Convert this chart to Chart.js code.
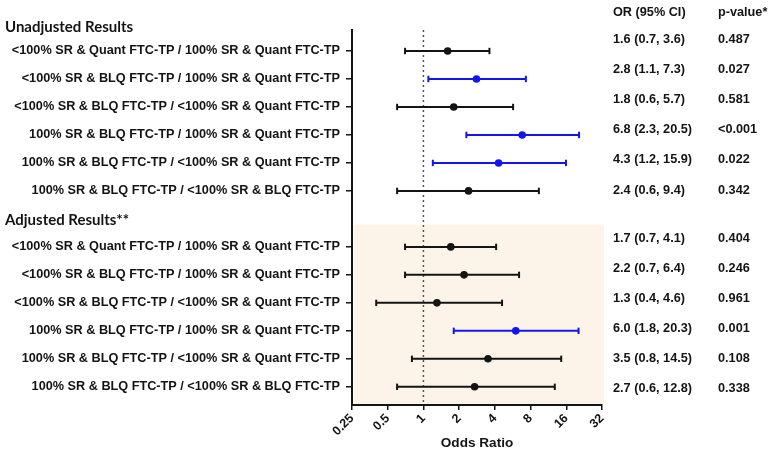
<!DOCTYPE html>
<html>
<head>
<meta charset="utf-8">
<script src="https://cdn.jsdelivr.net/npm/chart.js@4.4.1/dist/chart.umd.min.js"></script>
<style>
  html, body { margin: 0; padding: 0; background: #fff; }
  #wrap { width: 772px; height: 453px; }
</style>
</head>
<body>
<div id="wrap"><canvas id="forest"></canvas></div>
<script>
// comparisons (same six for both groups)
const comparisons = [
    '<100% SR & Quant FTC-TP / 100% SR & Quant FTC-TP',
    '<100% SR & BLQ FTC-TP / 100% SR & Quant FTC-TP',
    '<100% SR & BLQ FTC-TP / <100% SR & Quant FTC-TP',
    '100% SR & BLQ FTC-TP / 100% SR & Quant FTC-TP',
    '100% SR & BLQ FTC-TP / <100% SR & Quant FTC-TP',
    '100% SR & BLQ FTC-TP / <100% SR & BLQ FTC-TP'
];

// unadjusted results
const unadjOR = [1.6, 2.8, 1.8, 6.8, 4.3, 2.4];
const unadjLo = [0.7, 1.1, 0.6, 2.3, 1.2, 0.6];
const unadjHi = [3.6, 7.3, 5.7, 20.5, 15.9, 9.4];
const unadjP = ['0.487', '0.027', '0.581', '<0.001', '0.022', '0.342'];

// adjusted results
const adjOR = [1.7, 2.2, 1.3, 6.0, 3.5, 2.7];
const adjLo = [0.7, 0.7, 0.4, 1.8, 0.8, 0.6];
const adjHi = [4.1, 6.4, 4.6, 20.3, 14.5, 12.8];
const adjP = ['0.404', '0.246', '0.961', '0.001', '0.108', '0.338'];

const xTicks = [0.25, 0.5, 1, 2, 4, 8, 16, 32];

const BLUE = '#1414ee';
const BLACK = '#141414';
const FONT = '"Liberation Sans", Arial, sans-serif';

// строки: 0..5 - без поправки, 6 - заголовок, 7..12 - с поправкой
const rows = [];
unadjOR.forEach((v, i) => rows.push({ y: i, or: v, lo: unadjLo[i], hi: unadjHi[i], p: unadjP[i], label: comparisons[i] }));
adjOR.forEach((v, i) => rows.push({ y: 7 + i, or: v, lo: adjLo[i], hi: adjHi[i], p: adjP[i], label: comparisons[i] }));

const colorOf = r => (r.lo > 1 ? BLUE : BLACK);
const yMin = -0.75, yMax = 12.65;

const datasets = [];
// точки OR
datasets.push({
    data: rows.map(r => ({ x: r.or, y: r.y })),
    pointRadius: 3.8,
    pointBorderWidth: 0,
    pointBackgroundColor: rows.map(colorOf),
    showLine: false
});
// доверительные интервалы
rows.forEach(r => {
    datasets.push({
        data: [{ x: r.lo, y: r.y }, { x: r.hi, y: r.y }],
        showLine: true,
        borderColor: colorOf(r),
        borderWidth: 2,
        pointStyle: 'line',
        pointRotation: 90,
        pointRadius: 3.2,
        pointBorderWidth: 2,
        pointBorderColor: colorOf(r)
    });
});
// линия OR = 1
datasets.push({
    data: [{ x: 1, y: yMin }, { x: 1, y: yMax }],
    showLine: true,
    borderColor: '#555',
    borderWidth: 1.5,
    borderDash: [2, 3],
    pointRadius: 0
});

const forestText = {
    id: 'forestText',
    beforeDraw(chart) {
        const { ctx, chartArea, scales } = chart;
        ctx.save();
        ctx.fillStyle = '#fff';
        ctx.fillRect(0, 0, chart.width, chart.height);
        const top = scales.y.getPixelForValue(6.2);
        ctx.fillStyle = '#fcf4e8';
        ctx.fillRect(chartArea.left + 2, top, chartArea.right - chartArea.left, chartArea.bottom - top);
        ctx.restore();
    },
    afterDraw(chart) {
        const { ctx, scales } = chart;
        ctx.save();
        ctx.textBaseline = 'middle';
        ctx.fillStyle = BLACK;
        ctx.font = 'bold 15px Lato, "Open Sans", sans-serif';
        ctx.fillText('Unadjusted Results', 5, scales.y.getPixelForValue(-0.86));
        ctx.fillText('Adjusted Results**', 5, scales.y.getPixelForValue(6.05));

        ctx.font = 'bold 12.7px ' + FONT;
        ctx.fillText('OR (95% CI)', 613, 12);
        ctx.fillText('p-value*', 718, 12);
        rows.forEach((r, i) => {
            const k = i % 6;
            const y = i < 6 ? 39 + 30.2 * k : 238 + 30 * k;
            ctx.fillText(`${r.or.toFixed(1)} (${r.lo.toFixed(1)}, ${r.hi.toFixed(1)})`, 613, y);
            ctx.fillText(r.p, 718, y);
        });
        ctx.restore();
    }
};

new Chart(document.getElementById('forest'), {
    type: 'scatter',
    data: { datasets },
    options: {
        responsive: true,
        maintainAspectRatio: false,
        animation: false,
        layout: { padding: { top: 30, right: 170, left: 0, bottom: 0 } },
        plugins: { legend: { display: false }, tooltip: { enabled: false } },
        scales: {
            x: {
                type: 'logarithmic',
                min: 0.25,
                max: 32,
                afterBuildTicks: s => { s.ticks = xTicks.map(v => ({ value: v })); },
                afterFit: s => { s.height = 48; },
                border: { color: BLACK, width: 2 },
                grid: { drawOnChartArea: false, color: BLACK, lineWidth: 1.5, tickLength: 5 },
                ticks: {
                    color: BLACK,
                    font: { family: FONT, weight: 'bold', size: 12.5 },
                    minRotation: 45,
                    maxRotation: 45,
                    padding: 1,
                    callback: v => String(v)
                },
                title: {
                    display: true,
                    text: 'Odds Ratio',
                    color: BLACK,
                    font: { family: FONT, weight: 'bold', size: 13.6 },
                    padding: { top: 0, bottom: 2 }
                }
            },
            y: {
                type: 'linear',
                min: yMin,
                max: yMax,
                reverse: true,
                afterBuildTicks: s => { s.ticks = rows.map(r => ({ value: r.y })); },
                afterFit: s => { s.width = 352; },
                border: { color: BLACK, width: 2 },
                grid: { drawOnChartArea: false, color: BLACK, lineWidth: 1.5, tickLength: 6 },
                ticks: {
                    color: BLACK,
                    font: { family: FONT, weight: 'bold', size: 12.7 },
                    padding: 6,
                    autoSkip: false,
                    callback: v => {
                        const r = rows.find(q => q.y === v);
                        return r ? r.label : '';
                    }
                }
            }
        }
    },
    plugins: [forestText]
});
</script>
</body>
</html>
